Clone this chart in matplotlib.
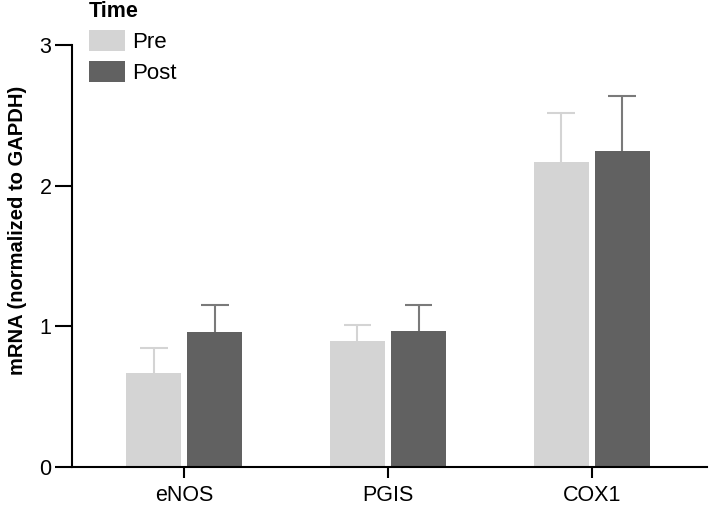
import numpy as np
import matplotlib
matplotlib.use('Agg')
import matplotlib.pyplot as plt

plt.rcParams['font.family'] = ['Liberation Sans', 'DejaVu Sans']

# data
genes = ['eNOS', 'PGIS', 'COX1']
pre_mean = [0.67, 0.895, 2.17]
pre_err = [0.175, 0.115, 0.345]
post_mean = [0.96, 0.97, 2.25]
post_err = [0.195, 0.185, 0.39]

pre_color = '#d4d4d4'
post_color = '#616161'

fig = plt.figure(figsize=(7.09, 5.08), dpi=100)
ax = fig.add_axes([0.102, 0.0807, 0.8948, 0.8303])

x = np.arange(len(genes))
w = 0.27
off = 0.15
cap = 0.068

ax.bar(x - off, pre_mean, w, color=pre_color, label='Pre', zorder=2)
ax.bar(x + off, post_mean, w, color=post_color, label='Post', zorder=2)

# upper error bars only
pre_top = np.array(pre_mean) + np.array(pre_err)
post_top = np.array(post_mean) + np.array(post_err)
ax.vlines(x - off, pre_mean, pre_top, color=pre_color, lw=1.5, zorder=1)
ax.hlines(pre_top, x - off - cap, x - off + cap, color=pre_color, lw=1.5, zorder=1)
ax.vlines(x + off, post_mean, post_top, color='#7a7a7a', lw=1.5, zorder=1)
ax.hlines(post_top, x + off - cap, x + off + cap, color='#7a7a7a', lw=1.5, zorder=1)

ax.set_xlim(-0.55, 2.565)
ax.set_ylim(0, 3)
ax.set_yticks([0, 1, 2, 3])
ax.set_xticks(x)
ax.set_xticklabels(genes)

for s in ['top', 'right']:
    ax.spines[s].set_visible(False)
for s in ['left', 'bottom']:
    ax.spines[s].set_linewidth(1.5)

ax.tick_params(axis='y', length=12, width=1.5, labelsize=15.5, pad=3)
ax.tick_params(axis='x', length=8, width=1.5, labelsize=15.5, pad=5)

ax.set_ylabel('mRNA (normalized to GAPDH)', fontsize=14.5, fontweight='bold')
ax.yaxis.set_label_coords(-0.072, 0.56)

leg = fig.legend(loc='upper left', bbox_to_anchor=(88 / 709, 1.0), frameon=False,
                 title='Time', fontsize=16, title_fontproperties={'weight': 'bold', 'size': 15.5},
                 handlelength=1.6, handleheight=1.05, handletextpad=0.35,
                 labelspacing=0.35, borderpad=0.05, borderaxespad=0, alignment='left')
leg._legend_box.sep = 6

fig.savefig('out.png', dpi=100)
